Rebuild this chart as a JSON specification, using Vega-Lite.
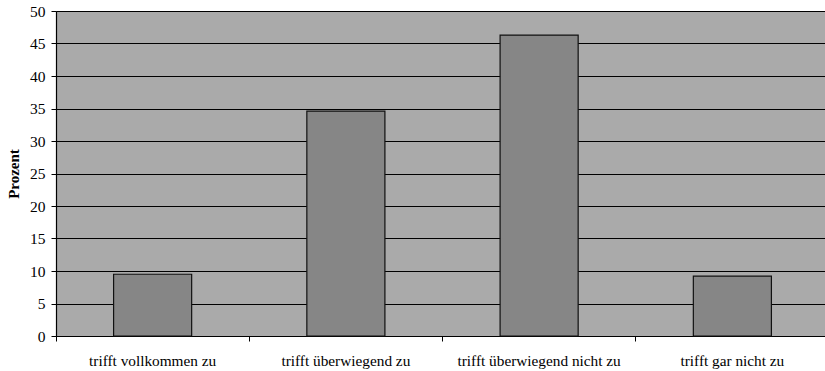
{
  "$schema": "https://vega.github.io/schema/vega-lite/v6.json",
  "autosize": "none",
  "padding": {"left": 56, "top": 11, "right": 0, "bottom": 35},
  "width": 773,
  "height": 325,
  "background": "white",
  "config": {
    "view": {"fill": "#aaaaaa", "stroke": null},
    "font": "Liberation Serif"
  },
  "data": {
    "values": [
      {"antwort": "trifft vollkommen zu", "prozent": 9.5},
      {"antwort": "trifft überwiegend zu", "prozent": 34.6},
      {"antwort": "trifft überwiegend nicht zu", "prozent": 46.3},
      {"antwort": "trifft gar nicht zu", "prozent": 9.2}
    ]
  },
  "mark": {"type": "bar", "fill": "#868686", "stroke": "#111111", "strokeWidth": 1.2, "width": {"band": 0.404}},
  "encoding": {
    "x": {
      "field": "antwort",
      "type": "nominal",
      "sort": null,
      "scale": {"paddingInner": 0, "paddingOuter": 0},
      "axis": {
        "title": null,
        "labelAngle": 0,
        "labelFont": "Liberation Serif",
        "labelFontSize": 15.3,
        "labelColor": "black",
        "labelPadding": 12,
        "bandPosition": 0,
        "ticks": true,
        "tickColor": "black",
        "tickSize": 5,
        "domainColor": "black",
        "domainWidth": 1.2,
        "grid": false
      }
    },
    "y": {
      "field": "prozent",
      "type": "quantitative",
      "scale": {"domain": [0, 50], "nice": false},
      "axis": {
        "title": "Prozent",
        "titleFont": "Liberation Serif",
        "titleFontSize": 15,
        "titleFontWeight": "bold",
        "titleColor": "black",
        "titlePadding": 8,
        "values": [0, 5, 10, 15, 20, 25, 30, 35, 40, 45, 50],
        "labelFont": "Liberation Serif",
        "labelFontSize": 15.5,
        "labelColor": "black",
        "labelPadding": 6,
        "tickColor": "black",
        "tickSize": 5,
        "domainColor": "black",
        "domainWidth": 1.2,
        "grid": true,
        "gridColor": "black",
        "gridOpacity": 1,
        "gridWidth": 1.2
      }
    }
  }
}
